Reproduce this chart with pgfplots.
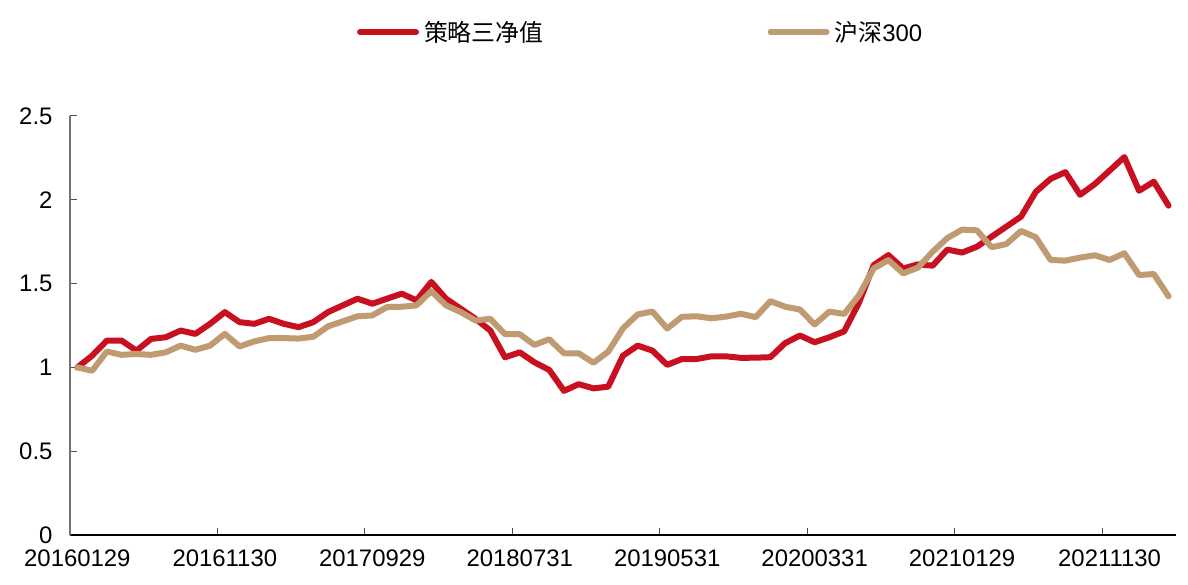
\documentclass[border=0pt]{standalone}
\usepackage{pgfplots}
\pgfplotsset{compat=1.18}
\usepackage{fontspec}
\setmainfont{Liberation Sans}
\newfontfamily\cjk{Noto Sans CJK SC}
\definecolor{cred}{RGB}{200,16,32}
\definecolor{ctan}{RGB}{192,154,112}

\pgfplotstableread{
i red tan
0 1.00 1.00
1 1.07 0.98
2 1.16 1.095
3 1.16 1.075
4 1.10 1.08
5 1.17 1.075
6 1.18 1.09
7 1.22 1.13
8 1.20 1.105
9 1.26 1.13
10 1.33 1.20
11 1.27 1.125
12 1.26 1.155
13 1.29 1.175
14 1.26 1.175
15 1.24 1.172
16 1.27 1.183
17 1.33 1.245
18 1.37 1.275
19 1.41 1.305
20 1.38 1.31
21 1.41 1.36
22 1.44 1.362
23 1.40 1.37
24 1.51 1.455
25 1.41 1.37
26 1.35 1.33
27 1.29 1.28
28 1.22 1.29
29 1.06 1.198
30 1.09 1.198
31 1.03 1.134
32 0.985 1.168
33 0.86 1.084
34 0.90 1.084
35 0.875 1.028
36 0.885 1.094
37 1.07 1.233
38 1.13 1.316
39 1.10 1.333
40 1.015 1.232
41 1.05 1.302
42 1.05 1.305
43 1.066 1.293
44 1.066 1.303
45 1.057 1.32
46 1.058 1.30
47 1.061 1.395
48 1.145 1.362
49 1.19 1.345
50 1.15 1.256
51 1.18 1.333
52 1.215 1.319
53 1.385 1.43
54 1.61 1.59
55 1.67 1.64
56 1.59 1.561
57 1.615 1.595
58 1.607 1.69
59 1.703 1.772
60 1.685 1.822
61 1.72 1.818
62 1.78 1.717
63 1.84 1.736
64 1.90 1.814
65 2.048 1.776
66 2.125 1.641
67 2.165 1.637
68 2.03 1.655
69 2.094 1.669
70 2.174 1.641
71 2.255 1.681
72 2.054 1.551
73 2.108 1.557
74 1.965 1.424
}\datatable

\begin{document}
\begin{tikzpicture}[x=1bp,y=1bp]
\path[use as bounding box] (-70bp,-50bp) rectangle (1118bp,535bp);
\begin{axis}[
  at={(0,0)}, anchor=south west,
  scale only axis, width=1106bp, height=419bp,
  xmin=-0.5, xmax=74.5, ymin=0, ymax=2.5,
  axis x line*=bottom, axis y line*=left,
  x axis line style={black, line width=1.2bp},
  y axis line style={black!55, line width=1.2bp},
  tick align=inside,
  major tick length=7bp,
  tick style={black!70, line width=1bp},
  xtick={9.5,19.5,...,69.5},
  xticklabel=\empty,
  extra x ticks={0,10,...,70},
  extra x tick labels={20160129,20161130,20170929,20180731,20190531,20200331,20210129,20211130},
  extra x tick style={major tick length=0pt},
  ytick={0,0.5,1,1.5,2,2.5},
  yticklabels={0,0.5,1,1.5,2,2.5},
  tick label style={font=\fontsize{24}{28}\selectfont},
  xticklabel style={yshift=-11bp},
  yticklabel style={xshift=-14bp},
  /pgf/number format/assume math mode=true,
  legend columns=2,
  legend style={at={(0.516,1.2)}, anchor=center, draw=none, fill=none,
    font=\fontsize{24}{28}\selectfont,
    /tikz/every even column/.append style={column sep=222bp}},
  legend image code/.code={\draw[#1] (0bp,0bp) -- (56bp,0bp);},
]
\addplot[cred, line width=6bp, line join=round, line cap=round] table[x=i, y=red] {\datatable};
\addlegendentry{\hspace{3bp}{\cjk 策略三净值}}
\addplot[ctan, line width=6bp, line join=round, line cap=round] table[x=i, y=tan] {\datatable};
\addlegendentry{\hspace{3bp}{\cjk 沪深}300}
\end{axis}
\end{tikzpicture}
\end{document}
